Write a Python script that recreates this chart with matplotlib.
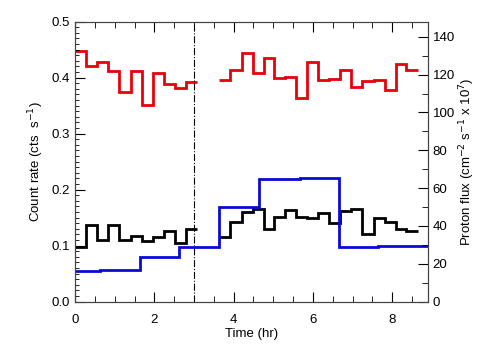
import matplotlib
matplotlib.use("Agg")
import matplotlib.pyplot as plt
import numpy as np
from matplotlib.ticker import MultipleLocator

plt.rcParams["font.family"] = ["Liberation Sans", "DejaVu Sans"]

# time bins (hr) for the two count-rate segments
edges_a = [0.0, 0.28, 0.56, 0.84, 1.12, 1.40, 1.68, 1.96, 2.24, 2.52, 2.80, 3.08]
edges_b = [3.64, 3.92, 4.21, 4.49, 4.76, 5.03, 5.30, 5.57, 5.85, 6.12, 6.41,
           6.69, 6.97, 7.25, 7.53, 7.81, 8.09, 8.36, 8.64]

red_a = [0.448, 0.421, 0.428, 0.412, 0.374, 0.412, 0.351, 0.409, 0.388, 0.382, 0.392]
red_b = [0.395, 0.414, 0.444, 0.408, 0.435, 0.399, 0.401, 0.364, 0.428, 0.396,
         0.398, 0.414, 0.383, 0.394, 0.396, 0.377, 0.424, 0.414]

black_a = [0.098, 0.137, 0.110, 0.137, 0.110, 0.117, 0.108, 0.115, 0.127, 0.104, 0.130]
black_b = [0.116, 0.143, 0.160, 0.166, 0.129, 0.152, 0.163, 0.152, 0.150, 0.158,
           0.141, 0.162, 0.166, 0.121, 0.149, 0.142, 0.129, 0.126]

# proton flux (cm^-2 s^-1 x 10^7)
flux_edges = [0.0, 0.63, 1.64, 2.63, 3.64, 4.65, 5.68, 6.65, 7.64, 8.9]
flux = [16.0, 16.6, 23.4, 29.0, 50.0, 64.8, 65.4, 29.0, 29.6]

t_mark = 3.0

fig = plt.figure(figsize=(5.04, 3.6), dpi=100)
ax = fig.add_axes([0.149, 0.162, 0.700, 0.778])
ax2 = ax.twinx()

RED, BLACK, BLUE = "#e8000b", "black", "#0a0ad8"
for e, v in [(edges_a, red_a), (edges_b, red_b)]:
    ax.stairs(v, e, baseline=None, color=RED, lw=2.0)
for e, v in [(edges_a, black_a), (edges_b, black_b)]:
    ax.stairs(v, e, baseline=None, color=BLACK, lw=2.0)
ax2.stairs(flux, flux_edges, baseline=None, color=BLUE, lw=2.0)
ax.axvline(t_mark, color="black", lw=0.8, ls="-.")

ax.set_xlim(0, 8.9)
ax.set_ylim(0, 0.5)
ax2.set_ylim(0, 148)

fs = 9.5
ax.xaxis.set_major_locator(MultipleLocator(2))
ax.xaxis.set_minor_locator(MultipleLocator(0.5))
ax.yaxis.set_major_locator(MultipleLocator(0.1))
ax.yaxis.set_minor_locator(MultipleLocator(0.01))
ax2.yaxis.set_major_locator(MultipleLocator(20))
ax2.yaxis.set_minor_locator(MultipleLocator(10))
ax.yaxis.set_major_formatter(lambda v, p: f"{v:.1f}")

ax.tick_params(axis="x", which="both", direction="in", top=True, labelsize=fs, pad=9)
ax.tick_params(axis="x", which="major", length=7)
ax.tick_params(axis="x", which="minor", length=4)
ax.tick_params(axis="y", which="both", direction="in", right=False, labelsize=fs)
ax.tick_params(axis="y", which="major", length=7)
ax.tick_params(axis="y", which="minor", length=3)
ax2.tick_params(axis="y", which="both", direction="in", labelsize=fs)
ax2.tick_params(axis="y", which="major", length=7)
ax2.tick_params(axis="y", which="minor", length=4)

for a in (ax, ax2):
    for s in a.spines.values():
        s.set_linewidth(0.8)
        s.set_color("#444444")

ax.set_xlabel("Time (hr)", fontsize=fs, labelpad=1)
ax.set_ylabel(r"Count rate (cts  s$^{-1}$)", fontsize=fs)
ax2.set_ylabel(r"Proton flux (cm$^{-2}$ s$^{-1}$ x 10$^{7}$)", fontsize=fs, labelpad=2)

fig.savefig("out.png", dpi=100)
